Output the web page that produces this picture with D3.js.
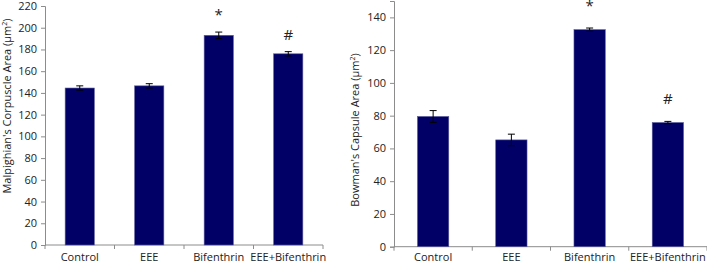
<!DOCTYPE html>
<html>
<head>
<meta charset="utf-8">
<script src="https://cdn.jsdelivr.net/npm/d3@7"></script>
<style>
  body { margin: 0; background: #fff; }
  svg text { font-family: "Open Sans", "Liberation Sans", sans-serif; fill: #222; }
</style>
</head>
<body>
<svg id="chart" width="707" height="265"></svg>
<script>
// data
const groups = ["Control", "EEE", "Bifenthrin", "EEE+Bifenthrin"]
const corpuscleMean = [144.5, 146.5, 193, 176]
const corpuscleErr = [2, 2, 3, 2]
const corpuscleMarks = ["", "", "*", "#"]
const capsuleMean = [79.5, 65.2, 132.5, 75.8]
const capsuleErr = [3.6, 3.5, 1, 0.7]
const capsuleMarks = ["", "", "*", "#"]

const svg = d3.select("#chart")
const barColor = "#000066"
const axisColor = "#8c8c8c"

function drawPanel(opt) {
    let g = svg.append("g")

    let x = d3.scaleBand()
        .domain(groups)
        .range([opt.left, opt.right])
        .paddingInner(0)
        .paddingOuter(0)

    let y = d3.scaleLinear()
        .domain([0, opt.max])
        .range([opt.bottom, opt.top])

    // y轴
    let yAxis = g.append("g")
        .attr("transform", "translate(" + opt.left + ",0)")
        .call(d3.axisLeft(y).tickValues(d3.range(0, opt.max + 1, opt.step)).tickSize(4).tickPadding(4))
    yAxis.selectAll("text").style("font-size", "11px")
    yAxis.select(".domain").attr("stroke", axisColor)
    yAxis.selectAll(".tick line").attr("stroke", axisColor)

    // x轴, ticks on the band edges
    let xAxis = g.append("g")
        .attr("transform", "translate(0," + opt.bottom + ")")
    xAxis.append("line")
        .attr("x1", opt.left).attr("x2", opt.right)
        .attr("stroke", axisColor)
    xAxis.selectAll(".edge")
        .data(groups.concat(["end"]))
        .enter()
        .append("line")
        .attr("x1", (d, i) => i < groups.length ? x(d) : opt.right)
        .attr("x2", (d, i) => i < groups.length ? x(d) : opt.right)
        .attr("y1", 0).attr("y2", 4)
        .attr("stroke", axisColor)
    xAxis.selectAll(".lab")
        .data(groups)
        .enter()
        .append("text")
        .attr("x", d => x(d) + x.bandwidth() / 2)
        .attr("y", opt.labelGap)
        .attr("text-anchor", "middle")
        .style("font-size", "11px")
        .text(d => d)

    let bw = x.bandwidth() * opt.barFrac
    // bars
    g.selectAll(".bar")
        .data(opt.mean)
        .enter()
        .append("rect")
        .attr("x", (d, i) => x(groups[i]) + (x.bandwidth() - bw) / 2)
        .attr("y", d => y(d))
        .attr("width", bw)
        .attr("height", d => y(0) - y(d))
        .attr("fill", barColor)
        .attr("stroke", "#5a5a9a")
        .attr("stroke-width", 0.6)

    // error bars
    let cx = i => x(groups[i]) + x.bandwidth() / 2
    opt.mean.forEach((m, i) => {
        let e = opt.err[i]
        g.append("line")
            .attr("x1", cx(i)).attr("x2", cx(i))
            .attr("y1", y(m - e)).attr("y2", y(m + e))
            .attr("stroke", "#000").attr("stroke-width", 1)
        ;[m - e, m + e].forEach(v => {
            g.append("line")
                .attr("x1", cx(i) - 3.5).attr("x2", cx(i) + 3.5)
                .attr("y1", y(v)).attr("y2", y(v))
                .attr("stroke", "#000").attr("stroke-width", 1)
        })
    })

    // significance marks
    g.selectAll(".mark")
        .data(opt.marks)
        .enter()
        .append("text")
        .attr("x", (d, i) => cx(i))
        .attr("y", (d, i) => y(opt.mean[i] + opt.err[i]) - opt.markGap)
        .attr("text-anchor", "middle")
        .style("font-size", "15px")
        .text(d => d)

    // y轴标题
    let t = g.append("text")
        .attr("transform", "translate(" + opt.titleX + "," + opt.titleY + ") rotate(-90)")
        .attr("text-anchor", "middle")
        .style("font-size", "11px")
    t.append("tspan").text(opt.title + " (μm")
    t.append("tspan").attr("baseline-shift", "super").style("font-size", "7px").text("2")
    t.append("tspan").text(")")
}

drawPanel({
    left: 45, right: 323, top: 6, bottom: 245, max: 220, step: 20,
    mean: corpuscleMean, err: corpuscleErr, marks: corpuscleMarks,
    barFrac: 0.42, markGap: 12, labelGap: 16,
    title: "Malpighian's Corpuscle Area", titleX: 11, titleY: 106
})

drawPanel({
    left: 394, right: 707, top: 1, bottom: 246.7, max: 150, step: 20,
    mean: capsuleMean, err: capsuleErr, marks: capsuleMarks,
    barFrac: 0.40, markGap: 17, labelGap: 14.5,
    title: "Bowman's Capsule Area", titleX: 359, titleY: 130
})
</script>
</body>
</html>
